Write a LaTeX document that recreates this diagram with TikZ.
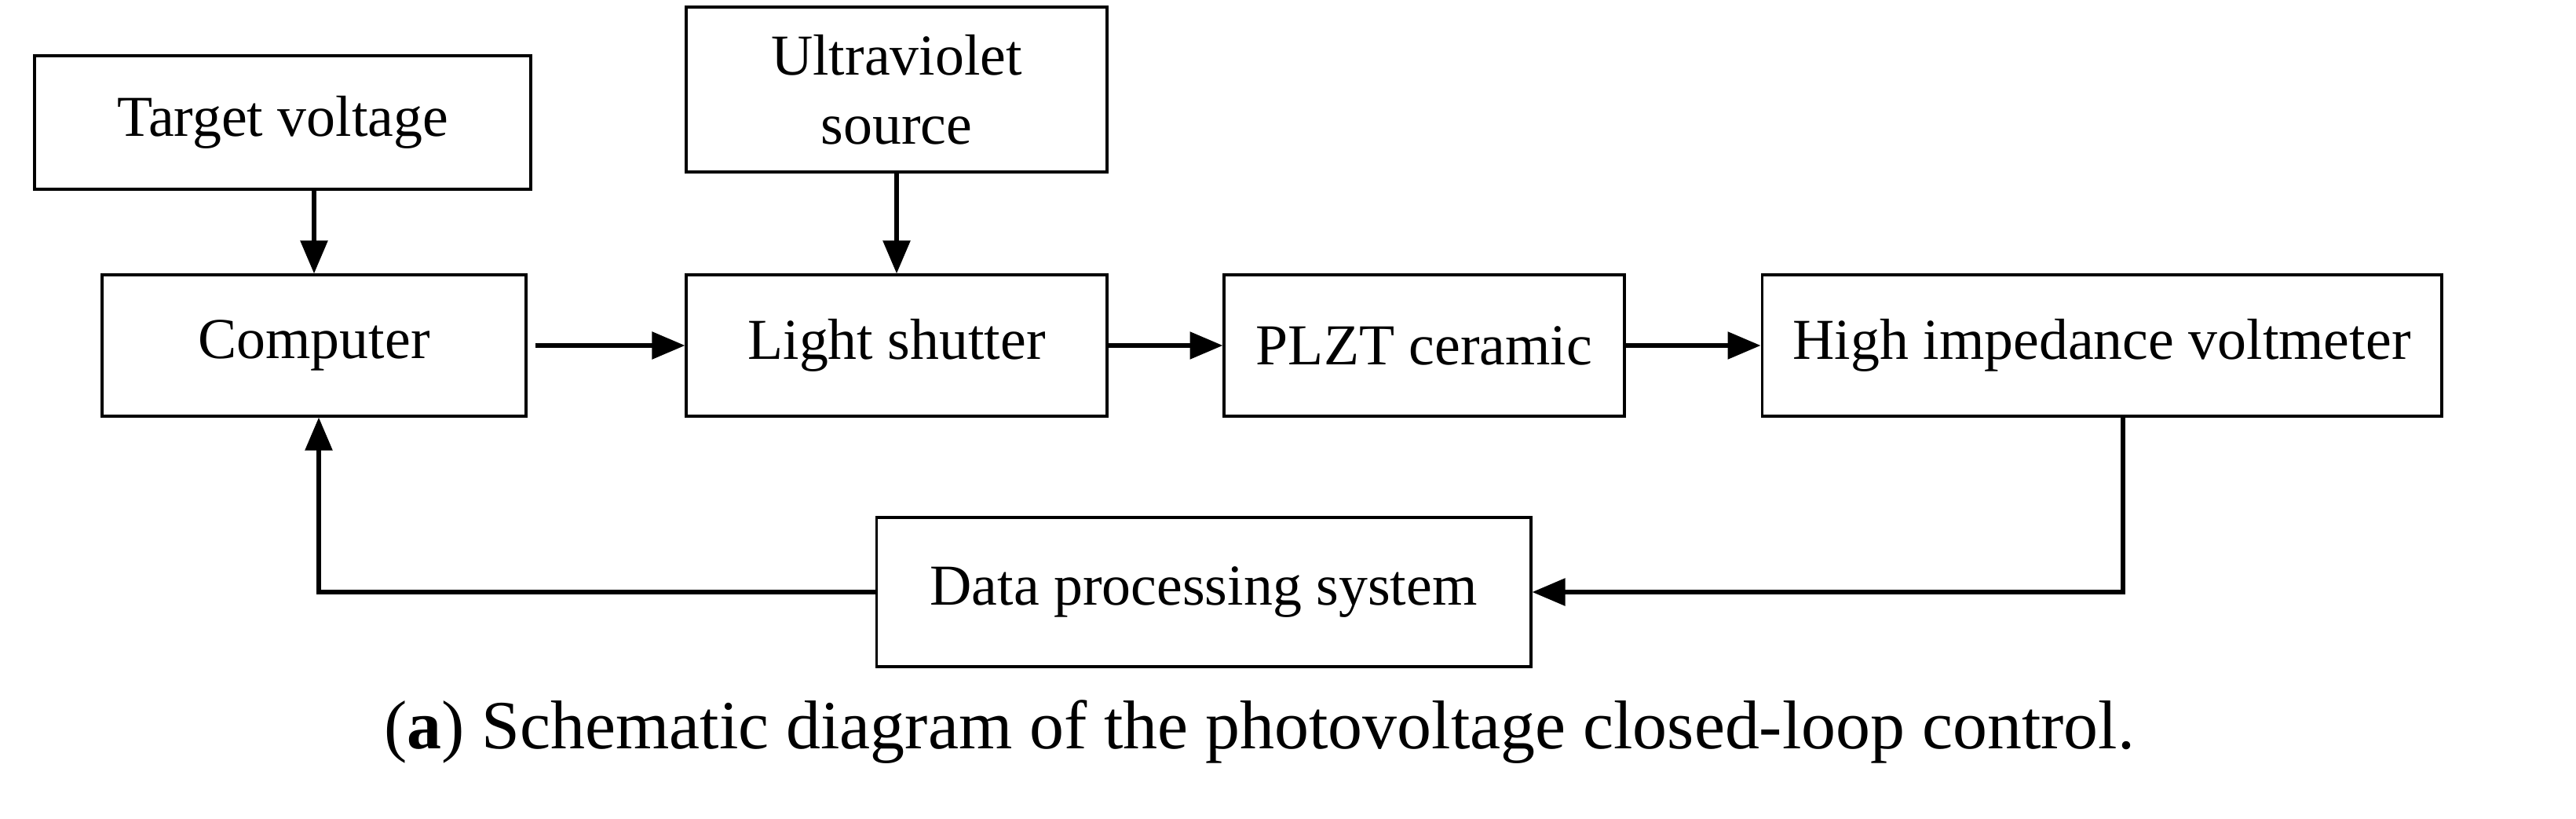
\documentclass[tikz,border=0pt]{standalone}
\usepackage{fontspec}
\setmainfont{Liberation Serif}
\usetikzlibrary{arrows.meta}
\begin{document}
\begin{tikzpicture}[x=0.02cm,y=-0.02cm,
  box/.style={draw,line width=0.9pt,inner sep=0pt,font=\fontsize{21}{25}\selectfont},
  arr/.style={line width=1.6pt,-{Triangle[length=0.42cm,width=0.34cm]}}]
\useasboundingbox (0,0) rectangle (1640.5,521.5);
\node[box,minimum width=6.32cm,minimum height=1.7cm] (tv) at (180,78) {Target voltage};
\node[box,minimum width=5.36cm,minimum height=2.1cm,align=center] (uv) at (571,57) {Ultraviolet\\source};
\node[box,minimum width=5.4cm,minimum height=1.8cm] (co) at (200,220) {Computer};
\node[box,minimum width=5.36cm,minimum height=1.8cm] (ls) at (571,220) {Light shutter};
\node[box,minimum width=5.1cm,minimum height=1.8cm] (pl) at (907,220) {PLZT ceramic};
\node[box,minimum width=8.66cm,minimum height=1.8cm] (hv) at (1338.5,220) {High impedance voltmeter};
\node[box,minimum width=8.34cm,minimum height=1.9cm] (dp) at (766.5,377) {Data processing system};
\draw[arr] (tv.south -| co.north) -- (co.north);
\draw[arr] (uv.south) -- (ls.north);
\draw[arr] ([xshift=0.1cm]co.east) -- (ls.west);
\draw[arr] (ls.east) -- (pl.west);
\draw[arr] (pl.east) -- (hv.west);
\coordinate (c1) at (1352,377);
\draw[arr] (hv.south -| c1) -- (c1) -- (dp.east);
\coordinate (c2) at (203,377);
\draw[arr] (dp.west) -- (c2) -- (c2 |- co.south);
\node[font=\fontsize{25}{30}\selectfont] (cap) at (802,466) {(\textbf{a}) Schematic diagram of the photovoltage closed-loop control.};
\end{tikzpicture}
\end{document}
